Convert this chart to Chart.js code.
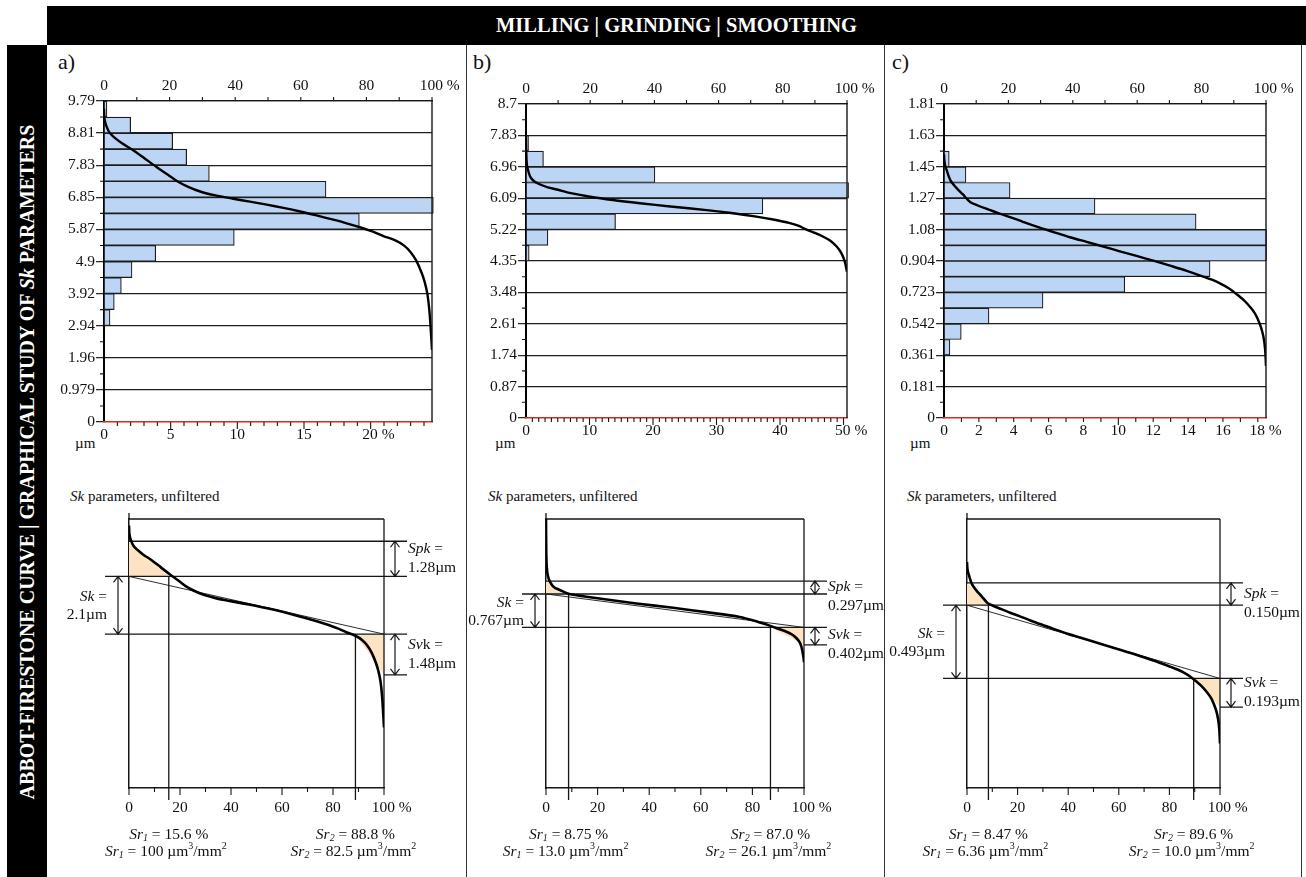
<!DOCTYPE html>
<html lang="en">
<head>
<meta charset="utf-8">
<title>Abbott-Firestone curves and Sk parameters</title>
<script src="https://cdn.jsdelivr.net/npm/chart.js@4.4.1/dist/chart.umd.min.js"></script>
<style>
  html, body { margin: 0; padding: 0; background: #fff; }
  #page { position: relative; width: 1306px; height: 877px; overflow: hidden;
          font-family: "Liberation Serif", "Times New Roman", serif; color: #111; }
  #page canvas { position: absolute; }
  .txt { position: absolute; white-space: nowrap; line-height: 1; }
  #header { position: absolute; left: 47px; top: 6px; width: 1259px; height: 39px; background: #000;
            color: #fff; font-weight: bold; font-size: 20.5px; line-height: 39px; text-align: center; }
  #sidebar { position: absolute; left: 7px; top: 45px; width: 40px; height: 832px; background: #000; }
  #sidetext { position: absolute; left: -373px; top: 442px; width: 800px; height: 40px;
              transform: rotate(-90deg); color: #fff; font-weight: bold; font-size: 20px;
              line-height: 40px; text-align: center; white-space: nowrap; }
  .vline { position: absolute; top: 45px; width: 0; height: 832px; border-left: 1.3px solid #333; }
</style>
</head>
<body>
<div id="page">
  <div id="header">MILLING | GRINDING | SMOOTHING</div>
  <div id="sidebar"></div>
  <div id="sidetext">ABBOT-FIRESTONE CURVE | GRAPHICAL STUDY OF <i>Sk</i> PARAMETERS</div>
  <div class="vline" style="left:466px"></div>
  <div class="vline" style="left:884px"></div>
  <div class="vline" style="left:1301px"></div>
</div>
<script>
const SERIF = '"Liberation Serif", "Times New Roman", serif';
Chart.defaults.font.family = SERIF;
Chart.defaults.color = '#111';

// ---------------- data ----------------
const panelLetters = ['a)', 'b)', 'c)'];

// height axis of the histograms (µm)
const heightMax = [9.79, 8.7, 1.81];
const heightTickLabels = [
  ['0', '0.979', '1.96', '2.94', '3.92', '4.9', '5.87', '6.85', '7.83', '8.81', '9.79'],
  ['0', '0.87', '1.74', '2.61', '3.48', '4.35', '5.22', '6.09', '6.96', '7.83', '8.7'],
  ['0', '0.181', '0.361', '0.542', '0.723', '0.904', '1.08', '1.27', '1.45', '1.63', '1.81']
];

// material ratio axis (%)
const pctTickValues = [0, 20, 40, 60, 80, 100];
const pctTickLabels = ['0', '20', '40', '60', '80', '100 %'];

// histogram axis (%)
const histTickValues = [
  [0, 5, 10, 15, 20],
  [0, 10, 20, 30, 40, 50],
  [0, 2, 4, 6, 8, 10, 12, 14, 16, 18]
];
const histTickLabels = [
  ['0', '5', '10', '15', '20 %'],
  ['0', '10', '20', '30', '40', '50 %'],
  ['0', '2', '4', '6', '8', '10', '12', '14', '16', '18 %']
];
const histAxisMax = [24.6, 50.55, 18.47];
const histMajorEvery = [5, 10, 10];

// height distribution: bin centres (µm) and share of points (%)
const binCentersA = [9.545, 9.056, 8.566, 8.077, 7.587, 7.098, 6.608, 6.119, 5.629, 5.140, 4.650, 4.161, 3.671, 3.182];
const histA = [0.22, 2.0, 5.15, 6.2, 7.9, 16.65, 24.7, 19.15, 9.77, 3.88, 2.1, 1.3, 0.77, 0.45];
const binCentersB = [7.6125, 7.1775, 6.7425, 6.3075, 5.8725, 5.4375, 5.0025, 4.5675];
const histB = [0.4, 2.75, 20.3, 50.8, 37.3, 14.1, 3.45, 0.5];
const binCentersC = [1.49325, 1.40275, 1.31225, 1.22175, 1.13125, 1.04075, 0.95025, 0.85975, 0.76925, 0.67875, 0.58825, 0.49775, 0.40725];
const histC = [0.3, 1.26, 3.79, 8.66, 14.46, 18.5, 18.5, 15.26, 10.37, 5.68, 2.58, 0.99, 0.34];

// Abbott-Firestone (bearing) curves: material ratio (%) vs height (µm)
const abbottPctA = [0, 0.15, 0.7, 1.8, 3.5, 5.5, 8.9, 12.5, 16.1, 19.5, 22.2, 25.5, 29.3, 34, 39.4, 44.5, 49.6, 54.7, 59.8, 64.8, 69.9, 74, 78, 81.8, 85.2, 88.8, 91.5, 93.5, 95.2, 96.8, 97.8, 98.6, 99.2, 99.6, 100];
const abbottHA = [9.55, 9.25, 9.03, 8.81, 8.65, 8.50, 8.29, 8.03, 7.77, 7.54, 7.35, 7.18, 7.03, 6.91, 6.81, 6.72, 6.63, 6.53, 6.42, 6.30, 6.17, 6.06, 5.94, 5.81, 5.67, 5.54, 5.38, 5.18, 4.92, 4.56, 4.26, 3.90, 3.40, 2.85, 2.20];
const abbottPctB = [0, 0.1, 0.3, 0.7, 1.34, 2.5, 4.4, 6.8, 9.6, 14, 20, 27, 35.5, 45, 56.3, 64, 71.8, 77, 82.2, 85, 87.4, 90, 92.5, 94.8, 96.7, 97.9, 98.8, 99.4, 100];
const abbottHB = [7.82, 7.30, 7.00, 6.85, 6.68, 6.56, 6.47, 6.39, 6.33, 6.23, 6.13, 6.04, 5.95, 5.86, 5.76, 5.68, 5.58, 5.50, 5.40, 5.32, 5.22, 5.13, 5.03, 4.91, 4.76, 4.62, 4.46, 4.30, 4.05];
const abbottPctC = [0, 0.1, 0.3, 0.8, 2, 3.9, 5.8, 8.1, 10.5, 13.3, 16.8, 20.5, 24.5, 28.8, 34, 39.1, 44.3, 49.5, 54.6, 59.8, 65, 70.2, 75.4, 80.5, 83.2, 85.7, 88.3, 90.9, 93.1, 95, 96.5, 97.6, 98.5, 99.2, 99.7, 100];
const abbottHC = [1.52, 1.49, 1.46, 1.43, 1.37, 1.325, 1.29, 1.245, 1.225, 1.205, 1.181, 1.158, 1.131, 1.103, 1.072, 1.042, 1.015, 0.988, 0.961, 0.934, 0.907, 0.878, 0.848, 0.815, 0.797, 0.776, 0.749, 0.713, 0.679, 0.641, 0.605, 0.564, 0.52, 0.468, 0.40, 0.30];

// unfiltered bearing curve used for the Sk construction of panel b
const unfilteredPctB = [0, 0.1, 0.3, 0.7, 1.5, 3, 5.4, 8.75, 15, 23.5, 35, 49.3, 62, 75.1, 82, 86.7, 90, 93.2, 95.5, 97.1, 98.3, 99, 99.5, 99.8, 100];
const unfilteredHB = [7.70, 6.95, 6.60, 6.40, 6.26, 6.14, 6.07, 5.98, 5.92, 5.85, 5.76, 5.66, 5.56, 5.45, 5.34, 5.25, 5.18, 5.11, 5.04, 4.96, 4.87, 4.76, 4.63, 4.52, 4.41];

// Sk parameters (ISO 25178)
const skText = ['2.1', '0.767', '0.493'];
const spkText = ['1.28', '0.297', '0.150'];
const svkText = ['1.48', '0.402', '0.193'];
const coreLowerLevel = [5.60, 5.21, 0.737];
const skAxisRange = [[0, 9.79], [1.52, 7.70], [0, 1.81]];
const sr1Text = ['15.6', '8.75', '8.47'];
const sr2Text = ['88.8', '87.0', '89.6'];
const sr1VolText = ['100', '13.0', '6.36'];
const sr2VolText = ['82.5', '26.1', '10.0'];

const binCenters = [binCentersA, binCentersB, binCentersC];
const histValues = [histA, histB, histC];
const abbottPct = [abbottPctA, abbottPctB, abbottPctC];
const abbottH = [abbottHA, abbottHB, abbottHC];
const skCurvePct = [abbottPctA, unfilteredPctB, abbottPctC];
const skCurveH = [abbottHA, unfilteredHB, abbottHC];

// ---------------- layout ----------------
const topCanvas = [{x: 47, y: 45, w: 419, h: 425}, {x: 466, y: 45, w: 418, h: 425}, {x: 884, y: 45, w: 417, h: 425}];
const topPlot = [{l: 104, r: 432, t: 101, b: 422}, {l: 526, r: 847, t: 104, b: 418}, {l: 944, r: 1266, t: 104, b: 418}];
const skCanvas = [{x: 47, y: 462, w: 419, h: 415}, {x: 466, y: 462, w: 418, h: 415}, {x: 884, y: 462, w: 417, h: 415}];
const skPlot = [{l: 129, r: 384, t: 519, b: 788}, {l: 546, r: 804, t: 519, b: 788}, {l: 967, r: 1220, t: 519, b: 788}];
const letterPos = [[58, 51], [473, 51], [892, 51]];
const unitPos = [[75, 436], [495, 436], [910, 436]];
const titlePos = [[70, 489], [488, 489], [907, 489]];
const spkTextDy = [-10, -1, 0];
const svkTextDy = [-10, -1, -10];

const BAR_FILL = '#bcd5f5';
const PEACH = '#fde3c2';
const INK = '#161616';
const TICK_FONT = {size: 15.5, family: SERIF};

const page = document.getElementById('page');

function addText(html, x, y, size) {
  const d = document.createElement('div');
  d.className = 'txt';
  d.style.left = x + 'px';
  d.style.top = y + 'px';
  d.style.fontSize = size + 'px';
  d.innerHTML = html;
  page.appendChild(d);
}

function makeCanvas(r) {
  const c = document.createElement('canvas');
  c.width = r.w; c.height = r.h;
  c.style.left = r.x + 'px'; c.style.top = r.y + 'px';
  c.style.width = r.w + 'px'; c.style.height = r.h + 'px';
  page.appendChild(c);
  return c;
}

const fixWidth = w => s => { s.width = w; s.paddingLeft = s.paddingRight = s.paddingTop = s.paddingBottom = 0; };
const fixHeight = h => s => { s.height = h; s.paddingLeft = s.paddingRight = s.paddingTop = s.paddingBottom = 0; };
// the unit sign trails the number, so the number itself stays centred on its tick
const pctLabel = t => t.indexOf('%') >= 0 ? '    ' + t : t;

function seg(ctx, x1, y1, x2, y2) { ctx.moveTo(x1, y1); ctx.lineTo(x2, y2); }

function fontFor(kind, size) {
  const italic = kind.charAt(0) === 'i';
  const small = /sub|sup/.test(kind);
  return (italic ? 'italic ' : '') + (small ? Math.round(size * 0.62) : size) + 'px ' + SERIF;
}
function drawRich(ctx, parts, x, y, size, align) {
  let w = 0;
  for (const [t, k] of parts) { ctx.font = fontFor(k, size); w += ctx.measureText(t).width; }
  let cx = align === 'center' ? x - w / 2 : (align === 'right' ? x - w : x);
  ctx.textAlign = 'left';
  ctx.textBaseline = 'middle';
  ctx.fillStyle = '#111';
  for (const [t, k] of parts) {
    ctx.font = fontFor(k, size);
    const dy = /sub/.test(k) ? size * 0.28 : (/sup/.test(k) ? -size * 0.32 : 0);
    ctx.fillText(t, cx, y + dy);
    cx += ctx.measureText(t).width;
  }
}

function vArrow(ctx, x, y1, y2) {
  const h = Math.min(6, (y2 - y1) / 2), w = 4.5;
  ctx.beginPath();
  seg(ctx, x, y1, x, y2);
  ctx.moveTo(x - w, y1 + h); ctx.lineTo(x, y1); ctx.lineTo(x + w, y1 + h);
  ctx.moveTo(x - w, y2 - h); ctx.lineTo(x, y2); ctx.lineTo(x + w, y2 - h);
  ctx.stroke();
}

// ---------------- histogram + bearing curve ----------------
function histFrame(i) {
  return {
    id: 'histFrame' + i,
    afterDraw(chart) {
      const {ctx, chartArea: a} = chart;
      const y = chart.scales.y, xp = chart.scales.xPct, xh = chart.scales.xHist;
      ctx.save();
      ctx.strokeStyle = INK;
      ctx.lineWidth = 1.1;
      ctx.beginPath();
      const step = heightMax[i] / 10;
      for (let k = 0; k < 10; k++) {
        const py = y.getPixelForValue((k + 0.5) * step);
        seg(ctx, a.left - 4, py, a.left, py);
      }
      for (let v = 10; v <= 100; v += 10) {
        const px = xp.getPixelForValue(v);
        seg(ctx, px, a.top - 4, px, a.top);
      }
      for (let v = 1; v <= Math.floor(histAxisMax[i]); v++) {
        const px = xh.getPixelForValue(v);
        seg(ctx, px, a.bottom, px, a.bottom + (v % histMajorEvery[i] === 0 ? 7 : 4));
      }
      ctx.stroke();
      ctx.lineWidth = 1.4;
      ctx.beginPath();
      seg(ctx, a.right, a.top, a.right, a.bottom);
      ctx.stroke();
      ctx.restore();
    }
  };
}

function buildTopChart(i) {
  const P = topPlot[i], C = topCanvas[i];
  const hMax = heightMax[i];
  const hTickValues = heightTickLabels[i].map((_, k) => k * hMax / 10);
  new Chart(makeCanvas(C), {
    type: 'bar',
    data: {
      datasets: [
        {
          type: 'bar',
          label: 'height distribution',
          data: binCenters[i].map((c, k) => ({x: histValues[i][k], y: c})),
          xAxisID: 'xHist', yAxisID: 'y',
          backgroundColor: BAR_FILL, borderColor: '#1c1c1c', borderWidth: 1.2, borderSkipped: false,
          barPercentage: 1, categoryPercentage: 1, clip: false, order: 2
        },
        {
          type: 'line',
          label: 'material ratio',
          indexAxis: 'y',
          data: abbottPct[i].map((p, k) => ({x: p, y: abbottH[i][k]})),
          xAxisID: 'xPct', yAxisID: 'y',
          borderColor: '#000', borderWidth: 2.4, pointRadius: 0, tension: 0.3, fill: false, order: 1
        }
      ]
    },
    options: {
      indexAxis: 'y', responsive: false, animation: false, events: [], devicePixelRatio: 1,
      layout: {padding: {left: 0, top: 0, bottom: 0, right: C.x + C.w - P.r}},
      plugins: {legend: {display: false}, tooltip: {enabled: false}},
      scales: {
        y: {
          type: 'linear', position: 'left', min: 0, max: hMax, offset: false,
          afterBuildTicks: s => { s.ticks = hTickValues.map(v => ({value: v})); },
          ticks: {callback: (v, idx) => heightTickLabels[i][idx], font: TICK_FONT, color: '#111', padding: 1, autoSkip: false},
          grid: {offset: false, color: c => (c.index === 0 ? 'rgba(0,0,0,0)' : '#1e1e1e'), lineWidth: 1.3,
                 tickLength: 8, tickColor: '#1e1e1e', tickWidth: 1.2},
          border: {color: '#000', width: 2},
          afterFit: fixWidth(P.l - C.x)
        },
        xPct: {
          type: 'linear', position: 'top', min: 0, max: 100,
          afterBuildTicks: s => { s.ticks = pctTickValues.map(v => ({value: v})); },
          ticks: {callback: (v, idx) => pctLabel(pctTickLabels[idx]), font: TICK_FONT, color: '#111', padding: 6,
                  autoSkip: false, maxRotation: 0},
          grid: {display: false, drawTicks: false},
          border: {color: INK, width: 1.3},
          afterFit: fixHeight(P.t - C.y)
        },
        xHist: {
          type: 'linear', position: 'bottom', min: 0, max: histAxisMax[i],
          afterBuildTicks: s => { s.ticks = histTickValues[i].map(v => ({value: v})); },
          ticks: {callback: (v, idx) => pctLabel(histTickLabels[i][idx]), font: TICK_FONT, color: '#111', padding: 4,
                  autoSkip: false, maxRotation: 0},
          grid: {display: false, drawTicks: false},
          border: {color: '#d62a22', width: 1.6},
          afterFit: fixHeight(C.y + C.h - P.b)
        }
      }
    },
    plugins: [histFrame(i)]
  });
}

// ---------------- Sk construction ----------------
function skDecor(i) {
  const sk = parseFloat(skText[i]), spk = parseFloat(spkText[i]), svk = parseFloat(svkText[i]);
  const L = coreLowerLevel[i], U = L + sk, Pk = U + spk, V = L - svk;
  const sr1 = parseFloat(sr1Text[i]), sr2 = parseFloat(sr2Text[i]);
  return {
    id: 'skDecor' + i,
    beforeDatasetsDraw(chart) {
      const {ctx, chartArea: a, scales: {x, y}} = chart;
      const X = v => x.getPixelForValue(v), Y = v => y.getPixelForValue(v);
      ctx.save();
      // areas of the peak and valley triangles
      ctx.fillStyle = PEACH;
      ctx.beginPath();
      ctx.moveTo(X(0), Y(Pk)); ctx.lineTo(X(0), Y(U)); ctx.lineTo(X(sr1), Y(U)); ctx.closePath();
      ctx.moveTo(X(sr2), Y(L)); ctx.lineTo(X(100), Y(L)); ctx.lineTo(X(100), Y(V)); ctx.closePath();
      ctx.fill();
      // frame and construction lines
      ctx.strokeStyle = INK;
      ctx.lineWidth = 1.3;
      ctx.beginPath();
      seg(ctx, a.left, a.top, a.right, a.top);
      seg(ctx, a.right, a.top, a.right, a.bottom);
      seg(ctx, a.left, a.top - 6, a.left, a.top);
      seg(ctx, a.left, Y(Pk), a.right + 23, Y(Pk));
      seg(ctx, a.left - 24, Y(U), a.right + 23, Y(U));
      seg(ctx, a.left - 24, Y(L), a.right + 23, Y(L));
      seg(ctx, a.right, Y(V), a.right + 23, Y(V));
      seg(ctx, X(sr1), Y(U), X(sr1), a.bottom + 12);
      seg(ctx, X(sr2), Y(L), X(sr2), a.bottom + 12);
      ctx.stroke();
      // ticks of the material ratio axis
      ctx.lineWidth = 1.1;
      ctx.beginPath();
      for (let v = 0; v <= 100; v += 10) {
        const px = X(v);
        seg(ctx, px, a.bottom, px, a.bottom + (v % 20 === 0 ? 7 : 4));
      }
      ctx.stroke();
      // equivalent straight line of the core
      ctx.lineWidth = 0.9;
      ctx.beginPath();
      seg(ctx, X(0), Y(U), X(100), Y(L));
      ctx.stroke();
      ctx.restore();
    },
    afterDatasetsDraw(chart) {
      const {ctx, chartArea: a, scales: {x, y}} = chart;
      const X = v => x.getPixelForValue(v), Y = v => y.getPixelForValue(v);
      ctx.save();
      ctx.strokeStyle = INK;
      ctx.lineWidth = 1.2;
      const xl = a.left - 11, xr = a.right + 11;
      vArrow(ctx, xl, Y(U), Y(L));
      vArrow(ctx, xr, Y(Pk), Y(U));
      vArrow(ctx, xr, Y(L), Y(V));
      const fs = 15.5;
      const midSk = (Y(U) + Y(L)) / 2;
      drawRich(ctx, [['Sk', 'i'], [' =', 'n']], a.left - 22, midSk - 8, fs, 'right');
      drawRich(ctx, [[skText[i] + 'µm', 'n']], a.left - 22, midSk + 10, fs, 'right');
      const midSpk = (Y(Pk) + Y(U)) / 2 + spkTextDy[i];
      drawRich(ctx, [['Spk', 'i'], [' =', 'n']], a.right + 24, midSpk, fs, 'left');
      drawRich(ctx, [[spkText[i] + 'µm', 'n']], a.right + 24, midSpk + 19, fs, 'left');
      const midSvk = (Y(L) + Y(V)) / 2 + svkTextDy[i];
      drawRich(ctx, [['Sv', 'i'], ['k', i === 0 ? 'n' : 'i'], [' =', 'n']], a.right + 24, midSvk, fs, 'left');
      drawRich(ctx, [[svkText[i] + 'µm', 'n']], a.right + 24, midSvk + 19, fs, 'left');
      // material ratio results
      const y1 = a.bottom + 46.5, y2 = a.bottom + 63.5;
      drawRich(ctx, [['Sr', 'i'], ['1', 'isub'], [' = ' + sr1Text[i] + ' %', 'n']], X(sr1), y1, fs, 'center');
      drawRich(ctx, [['Sr', 'i'], ['1', 'isub'], [' = ' + sr1VolText[i] + ' µm', 'n'], ['3', 'sup'], ['/mm', 'n'], ['2', 'sup']],
               X(sr1) - 3, y2, fs, 'center');
      drawRich(ctx, [['Sr', 'i'], ['2', 'isub'], [' = ' + sr2Text[i] + ' %', 'n']], X(sr2), y1, fs, 'center');
      drawRich(ctx, [['Sr', 'i'], ['2', 'isub'], [' = ' + sr2VolText[i] + ' µm', 'n'], ['3', 'sup'], ['/mm', 'n'], ['2', 'sup']],
               X(sr2) - 2, y2, fs, 'center');
      ctx.restore();
    }
  };
}

function buildSkChart(i) {
  const P = skPlot[i], C = skCanvas[i];
  new Chart(makeCanvas(C), {
    type: 'scatter',
    data: {
      datasets: [{
        label: 'material ratio, unfiltered',
        data: skCurvePct[i].map((p, k) => ({x: p, y: skCurveH[i][k]})),
        showLine: true, borderColor: '#000', borderWidth: 2.6, pointRadius: 0, tension: 0.3, fill: false
      }]
    },
    options: {
      responsive: false, animation: false, events: [], devicePixelRatio: 1,
      layout: {padding: {left: 0, top: P.t - C.y, right: C.x + C.w - P.r, bottom: 0}},
      plugins: {legend: {display: false}, tooltip: {enabled: false}},
      scales: {
        x: {
          type: 'linear', position: 'bottom', min: 0, max: 100,
          afterBuildTicks: s => { s.ticks = pctTickValues.map(v => ({value: v})); },
          ticks: {callback: (v, idx) => pctLabel(pctTickLabels[idx]), font: TICK_FONT, color: '#111', padding: 11,
                  autoSkip: false, maxRotation: 0},
          grid: {display: false, drawTicks: false},
          border: {color: INK, width: 1.5},
          afterFit: fixHeight(C.y + C.h - P.b)
        },
        y: {
          type: 'linear', position: 'left', min: skAxisRange[i][0], max: skAxisRange[i][1],
          ticks: {display: false},
          grid: {display: false, drawTicks: false},
          border: {color: INK, width: 1.5},
          afterFit: fixWidth(P.l - C.x)
        }
      }
    },
    plugins: [skDecor(i)]
  });
}

for (let i = 0; i < 3; i++) {
  addText(panelLetters[i], letterPos[i][0], letterPos[i][1], 22);
  addText('µm', unitPos[i][0], unitPos[i][1], 15);
  addText('<i>Sk</i> parameters, unfiltered', titlePos[i][0], titlePos[i][1], 15);
  buildTopChart(i);
  buildSkChart(i);
}
</script>
</body>
</html>
